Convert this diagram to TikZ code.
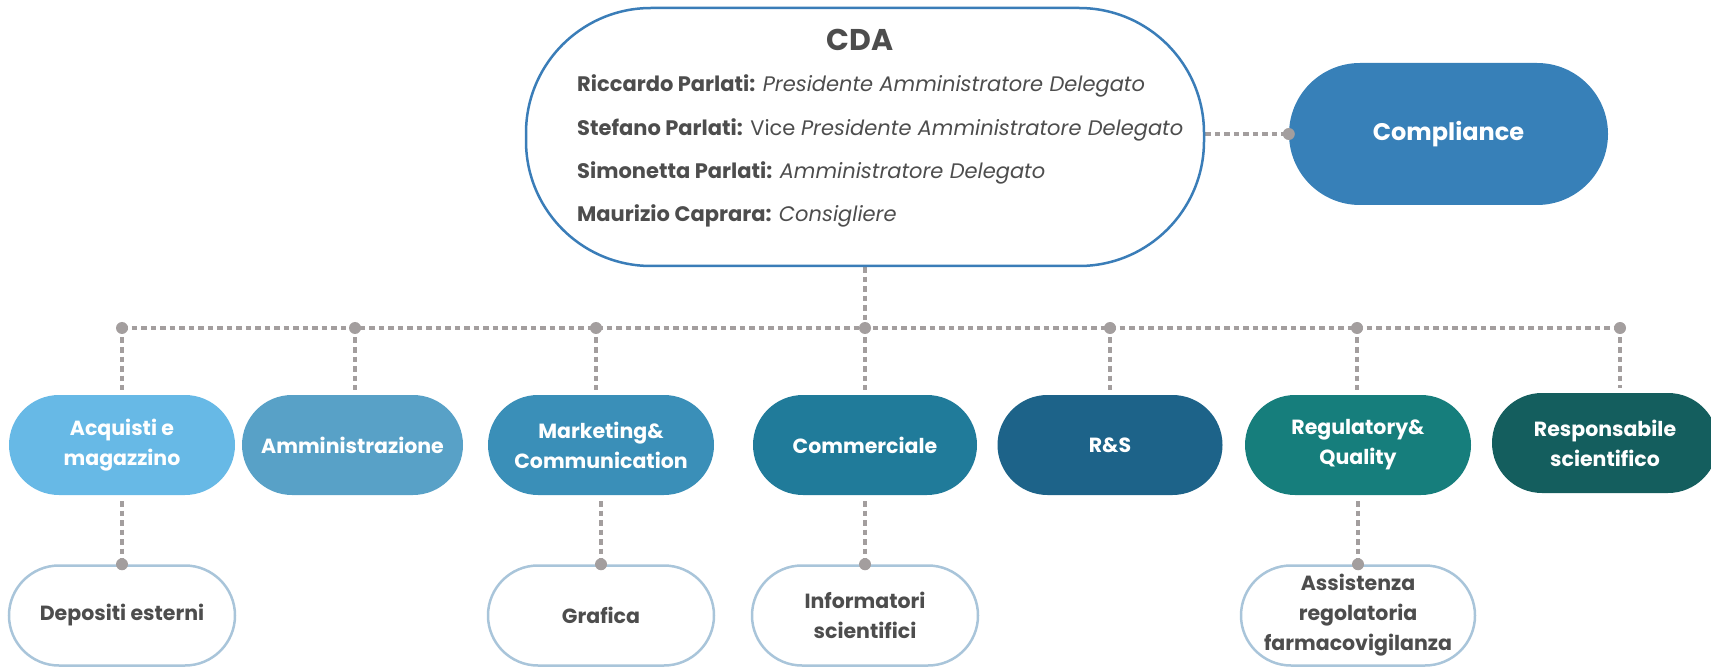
\documentclass[tikz,border=0pt]{standalone}
\usepackage{fontspec}
\setmainfont{Poppins}[BoldFont={Poppins Bold}, ItalicFont={Poppins Italic}, BoldItalicFont={Poppins Bold Italic}]
\usetikzlibrary{backgrounds}
\definecolor{cdab}{HTML}{3A7DB8}
\definecolor{compc}{HTML}{3780B8}
\definecolor{cA}{HTML}{67B9E6}
\definecolor{cB}{HTML}{58A1C7}
\definecolor{cC}{HTML}{3A8FB8}
\definecolor{cD}{HTML}{207B9A}
\definecolor{cE}{HTML}{1D6389}
\definecolor{cF}{HTML}{167E7C}
\definecolor{cG}{HTML}{145E5E}
\definecolor{leafc}{HTML}{A9C5DA}
\definecolor{connc}{HTML}{A39E9E}
\definecolor{darkt}{HTML}{4D4D4D}
\begin{document}
\begin{tikzpicture}[x=1pt,y=-1pt,
  pill/.style={rectangle, rounded corners=50pt, minimum width=226pt, minimum height=100pt,
    inner sep=0pt, align=center, font=\fontsize{20.5}{30}\selectfont\bfseries, text=white},
  leaf/.style={pill, fill=white, draw=leafc, line width=2.5pt, text=darkt},
  conn/.style={draw=connc, line width=3.6pt, dash pattern=on 5.5pt off 4pt},
  dotn/.style={circle, fill=connc, inner sep=0pt, minimum size=12pt},
  cdaline/.style={anchor=west, inner sep=0pt, text=darkt, font=\fontsize{21}{24}\selectfont}]
\useasboundingbox (0,0) rectangle (1711,668);

% top
\node[rectangle, rounded corners=125pt, draw=cdab, line width=2.5pt, fill=white,
  minimum width=678pt, minimum height=258pt] (cda) at (865,137) {};
\node[font=\fontsize{30}{32}\selectfont\bfseries, text=darkt] (cdat) at (860,40) {CDA};
\node[cdaline] (l1) at (577,86) {\textbf{Riccardo Parlati:} \textit{Presidente Amministratore Delegato}};
\node[cdaline] (l2) at (577,130) {\textbf{Stefano Parlati:} Vice \textit{Presidente Amministratore Delegato}};
\node[cdaline] (l3) at (577,173) {\textbf{Simonetta Parlati:} \textit{Amministratore Delegato}};
\node[cdaline] (l4) at (577,216) {\textbf{Maurizio Caprara:} \textit{Consigliere}};

\node[pill, fill=compc, minimum width=319pt, minimum height=142pt, rounded corners=71pt,
  font=\fontsize{24}{28}\selectfont\bfseries] (comp) at (1448.5,134) {Compliance};
\node[dotn] (dc) at (comp.west) {};

% level 2
\node[pill, fill=cA] (acq) at (122,445) {Acquisti e\\magazzino};
\node[pill, fill=cB, minimum width=221pt] (amm) at (352.5,445) {Amministrazione};
\node[pill, fill=cC] (mkt) at (601,445) {Marketing\&\\Communication};
\node[pill, fill=cD, minimum width=224pt] (com) at (865,445) {Commerciale};
\node[pill, fill=cE, minimum width=225pt] (rs) at (1110,445) {R\&S};
\node[pill, fill=cF] (reg) at (1358,445) {Regulatory\&\\Quality};
\node[pill, fill=cG] (resp) at (1605,443) {Responsabile\\scientifico};

% bus dots
\node[dotn] (d1) at (122,328) {};
\node[dotn] (d2) at (355,328) {};
\node[dotn] (d3) at (596,328) {};
\node[dotn] (d4) at (865,328) {};
\node[dotn] (d5) at (1110,328) {};
\node[dotn] (d6) at (1357,328) {};
\node[dotn] (d7) at (1620,328) {};

% level 3
\node[leaf] (dep) at (122,615.5) {Depositi esterni};
\node[leaf] (gra) at (601,615.5) {Grafica};
\node[leaf] (inf) at (865,615.5) {Informatori\\scientifici};
\node[leaf, minimum width=234pt] (ass) at (1358,615.5) {Assistenza\\regolatoria\\farmacovigilanza};
\node[dotn] (e1) at (dep.north) {};
\node[dotn] (e2) at (gra.north) {};
\node[dotn] (e3) at (inf.north) {};
\node[dotn] (e4) at (ass.north) {};

\begin{scope}[on background layer]
  \draw[conn] (dc -| cda.east) -- (dc.center);
  \draw[conn] (cda.south) -- (d4.center);
  \draw[conn] (d1.center) -- (d7.center);
  \draw[conn, shorten >=5pt] (d1.center) -- (d1 |- acq.north);
  \draw[conn, shorten >=5pt] (d2.center) -- (d2 |- amm.north);
  \draw[conn, shorten >=5pt] (d3.center) -- (d3 |- mkt.north);
  \draw[conn, shorten >=5pt] (d4.center) -- (d4 |- com.north);
  \draw[conn, shorten >=5pt] (d5.center) -- (d5 |- rs.north);
  \draw[conn, shorten >=5pt] (d6.center) -- (d6 |- reg.north);
  \draw[conn, shorten >=5pt] (d7.center) -- (d7 |- resp.north);
  \draw[conn, shorten <=6pt] (acq.south) -- (e1.center);
  \draw[conn, shorten <=6pt] (mkt.south) -- (e2.center);
  \draw[conn, shorten <=6pt] (com.south) -- (e3.center);
  \draw[conn, shorten <=6pt] (reg.south) -- (e4.center);
\end{scope}
\end{tikzpicture}
\end{document}
